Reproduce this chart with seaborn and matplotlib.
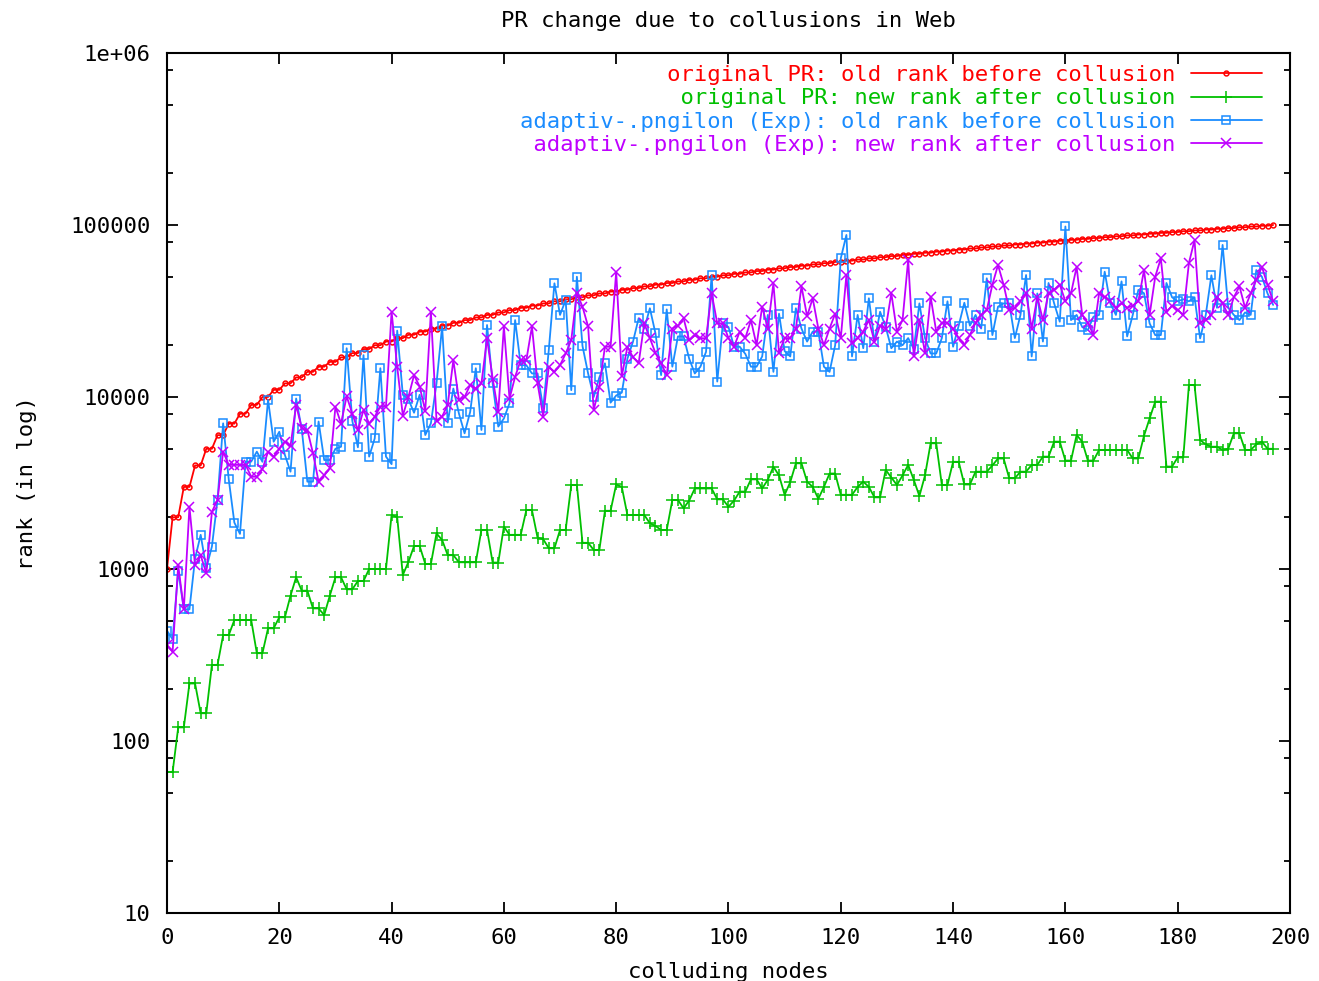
import matplotlib
matplotlib.use('Agg')
import matplotlib.pyplot as plt
from matplotlib.ticker import NullFormatter, NullLocator
import pandas as pd
import seaborn as sns

# rang avant collusion, PR original (en milliers)
red_k = [1, 2, 2, 3, 3, 4, 4, 5, 5, 6,
         6, 7, 7, 8, 8, 9, 9, 10, 10, 11,
         11, 12, 12, 13, 13, 14, 14, 15, 15, 16,
         16, 17, 17, 18, 18, 19, 19, 20, 20, 21,
         21, 22, 22, 23, 23, 24, 24, 25, 25, 26,
         26, 27, 27, 28, 28, 29, 29, 30, 30, 31,
         31, 32, 32, 33, 33, 34, 34, 35, 35, 36,
         36, 37, 37, 38, 38, 39, 39, 40, 40, 41,
         41, 42, 42, 43, 43, 44, 44, 45, 45, 46,
         46, 47, 47, 48, 48, 49, 49, 50, 50, 51,
         51, 52, 52, 53, 53, 54, 54, 55, 55, 56,
         56, 57, 57, 58, 58, 59, 59, 60, 60, 61,
         61, 62, 62, 63, 63, 64, 64, 65, 65, 66,
         66, 67, 67, 68, 68, 69, 69, 70, 70, 71,
         71, 72, 72, 73, 73, 74, 74, 75, 75, 76,
         76, 77, 77, 78, 78, 79, 79, 80, 80, 81,
         81, 82, 82, 83, 83, 84, 84, 85, 85, 86,
         86, 87, 87, 88, 88, 89, 89, 90, 90, 91,
         91, 92, 92, 93, 93, 94, 94, 95, 95, 96,
         96, 97, 97, 98, 98, 99, 99, 100]

# rang apres collusion, PR original
green = [66, 66, 120, 120, 216, 216, 145, 145, 277, 277,
         413, 413, 505, 505, 505, 505, 324, 324, 452, 452,
         524, 524, 700, 895, 748, 748, 590, 590, 540, 700,
         895, 895, 762, 762, 851, 851, 1000, 1000, 1000, 1000,
         2060, 2000, 922, 1100, 1360, 1360, 1070, 1070, 1610, 1475,
         1203, 1203, 1094, 1094, 1094, 1094, 1686, 1686, 1090, 1090,
         1763, 1580, 1580, 1580, 2200, 2200, 1520, 1490, 1320, 1320,
         1686, 1686, 3080, 3080, 1420, 1420, 1290, 1290, 2180, 2180,
         3100, 3000, 2060, 2060, 2060, 2060, 1845, 1780, 1686, 1686,
         2518, 2518, 2255, 2500, 2940, 2940, 2940, 2940, 2540, 2540,
         2300, 2500, 2820, 2820, 3320, 3320, 2940, 3300, 3930, 3500,
         2700, 3200, 4116, 4116, 3220, 3000, 2560, 3000, 3590, 3590,
         2700, 2700, 2700, 3000, 3220, 3000, 2610, 2610, 3770, 3400,
         3080, 3500, 4030, 3300, 2655, 3500, 5380, 5380, 3080, 3080,
         4200, 4200, 3100, 3100, 3680, 3680, 3680, 4000, 4390, 4390,
         3370, 3370, 3680, 3680, 4030, 4030, 4500, 4500, 5500, 5500,
         4270, 4270, 6010, 5500, 4270, 4270, 4920, 4920, 4920, 4920,
         4920, 4920, 4390, 4390, 5950, 7500, 9400, 9400, 3940, 3940,
         4450, 4450, 11750, 11750, 5620, 5300, 5140, 5140, 4920, 5000,
         6150, 6150, 4920, 4920, 5300, 5500, 5000, 5000]

# rang avant collusion, adaptiv (Exp)
blue = [438, 390, 977, 583, 583, 1150, 1580, 1010, 1350, 2520,
        7030, 3320, 1860, 1600, 4210, 4210, 4810, 4200, 9620, 5500,
        6280, 4600, 3680, 9800, 6500, 3220, 3220, 7200, 4300, 4300,
        5000, 5140, 19200, 7280, 5100, 17500, 4500, 5750, 14700, 4500,
        4070, 24300, 10300, 9700, 8100, 10300, 6010, 7030, 12000, 25700,
        7100, 11200, 8000, 6150, 8200, 14700, 6430, 26200, 12000, 6730,
        7500, 9190, 28000, 15300, 15300, 13700, 13700, 8590, 18800, 45800,
        30000, 36600, 10960, 50000, 19800, 13700, 10000, 13000, 15700, 9270,
        10200, 10600, 16700, 21000, 28700, 25000, 32800, 23400, 13400, 32300,
        15000, 22500, 22500, 16700, 13700, 15000, 18300, 51000, 12300, 26800,
        25500, 19600, 19600, 17800, 15000, 15000, 17200, 30000, 14000, 30500,
        18500, 17200, 32800, 25000, 21000, 24000, 24000, 15000, 14000, 20000,
        64000, 87500, 17200, 30000, 19200, 37500, 21000, 31300, 25500, 19200,
        21000, 20000, 22000, 19000, 35000, 22000, 17900, 17900, 22000, 36000,
        19600, 26000, 35300, 26000, 30000, 25000, 49000, 22900, 33500, 35000,
        35000, 22000, 30000, 51200, 17200, 40000, 21000, 46000, 35000, 27400,
        98000, 28000, 30000, 25500, 24500, 29300, 30000, 53500, 35000, 30000,
        47000, 22500, 30000, 42000, 40100, 26800, 22900, 22900, 46000, 38000,
        36000, 37000, 36000, 38000, 21900, 30000, 51000, 33000, 76600, 33000,
        30000, 28000, 31000, 30000, 54700, 50000, 40000, 34300]

# rang apres collusion, adaptiv (Exp)
magenta = [361, 330, 1050, 583, 2300, 1050, 1200, 944, 2150, 2520,
           4810, 4030, 4030, 4030, 4030, 3440, 3440, 3800, 4810, 4500,
           5000, 5500, 5200, 8980, 6580, 6430, 4710, 3220, 3500, 3850,
           8790, 7000, 10100, 8000, 6430, 8400, 7000, 7690, 8790, 8790,
           31300, 15000, 7800, 10000, 13400, 11500, 8300, 31300, 7300, 7700,
           9000, 16400, 9620, 10000, 11750, 11200, 12000, 21900, 12800, 8200,
           25700, 9800, 13100, 16400, 16400, 25700, 12000, 7700, 15000, 14000,
           15300, 17900, 21400, 40100, 33500, 25700, 8400, 11500, 19600, 19600,
           53500, 13200, 19600, 17000, 15700, 26800, 22000, 18000, 15700, 13400,
           25000, 26000, 28700, 21400, 22800, 22000, 21900, 40100, 26800, 26800,
           22000, 19600, 24000, 22000, 28000, 20000, 33500, 25000, 45800, 18100,
           22000, 22000, 25000, 44000, 29500, 37500, 25000, 20000, 25000, 30500,
           22000, 51200, 20500, 22000, 24000, 28000, 21000, 26000, 25000, 40100,
           24000, 28000, 62700, 17200, 28000, 18000, 38300, 24000, 27000, 27000,
           25000, 22000, 20000, 23000, 27000, 30000, 32000, 45000, 58500, 45000,
           32000, 33000, 36000, 40000, 25000, 38000, 28000, 40000, 42000, 45000,
           36000, 40000, 57100, 30000, 27000, 23000, 40000, 38000, 36000, 33000,
           35000, 33000, 34000, 36000, 54700, 30000, 50000, 64000, 31000, 34000,
           32000, 30000, 60000, 81800, 27000, 28000, 30000, 38000, 35000, 30000,
           38000, 44000, 33000, 40000, 48000, 57100, 45000, 36000]

labels = ['original PR: old rank before collusion',
          'original PR: new rank after collusion',
          'adaptiv-.pngilon (Exp): old rank before collusion',
          'adaptiv-.pngilon (Exp): new rank after collusion']
colors = ['#ff0000', '#00c000', '#1a8cff', '#bf00ff']

sns.set_style('ticks')
plt.rcParams['font.family'] = ['DejaVu Sans Mono']
plt.rcParams['font.size'] = 16
plt.rcParams['text.color'] = 'black'
plt.rcParams['axes.labelcolor'] = 'black'

fig, ax = plt.subplots(figsize=(13.19, 9.81), dpi=100)
fig.subplots_adjust(left=0.1266, right=0.978, top=0.946, bottom=0.0693)
ax.set_yscale('log')

series = [[k * 1000 for k in red_k], green, blue, magenta]
markers = ['o', '+', 's', 'x']
sizes = [3.5, 8, 6, 6.5]
width = max(len(l) for l in labels)

for vals, lab, col, mk, ms in zip(series, labels, colors, markers, sizes):
    df = pd.DataFrame({'node': range(len(vals)), 'rank': vals})
    sns.lineplot(data=df, x='node', y='rank', ax=ax, color=col, marker=mk,
                 markersize=ms, mfc='none', mec=col, mew=1.1, lw=1.3,
                 errorbar=None, label=lab.rjust(width))

ax.set_xlim(0, 200)
ax.set_ylim(10, 1e6)
ax.set_xticks(range(0, 201, 20))
ax.xaxis.set_minor_locator(NullLocator())
ax.set_yticks([10, 100, 1000, 1e4, 1e5, 1e6],
              labels=['10', '100', '1000', '10000', '100000', '1e+06'])
ax.set_yticks([m * 10 ** k for k in range(1, 6) for m in (2, 5, 8)], minor=True)
ax.yaxis.set_minor_formatter(NullFormatter())
ax.tick_params(which='both', direction='in', top=True, right=True, width=1.3,
               colors='black', labelcolor='black')
ax.tick_params(which='major', length=8)
ax.tick_params(which='minor', length=4)
ax.tick_params(axis='y', pad=12)
ax.tick_params(axis='x', pad=11)
for s in ax.spines.values():
    s.set_linewidth(1.5)
    s.set_color('black')

ax.set_title('PR change due to collusions in Web', pad=19, fontsize=16)
ax.set_xlabel('colluding nodes', labelpad=10)
ax.set_ylabel('rank (in log)', labelpad=24)

leg = ax.legend(loc='upper right', bbox_to_anchor=(0.975, 0.986), frameon=False,
                markerfirst=False, handlelength=3.2, handletextpad=0.7,
                borderpad=0, borderaxespad=0, labelspacing=0.15, fontsize=16)
for t, c in zip(leg.get_texts(), colors):
    t.set_color(c)

fig.savefig('out.png', dpi=100)
